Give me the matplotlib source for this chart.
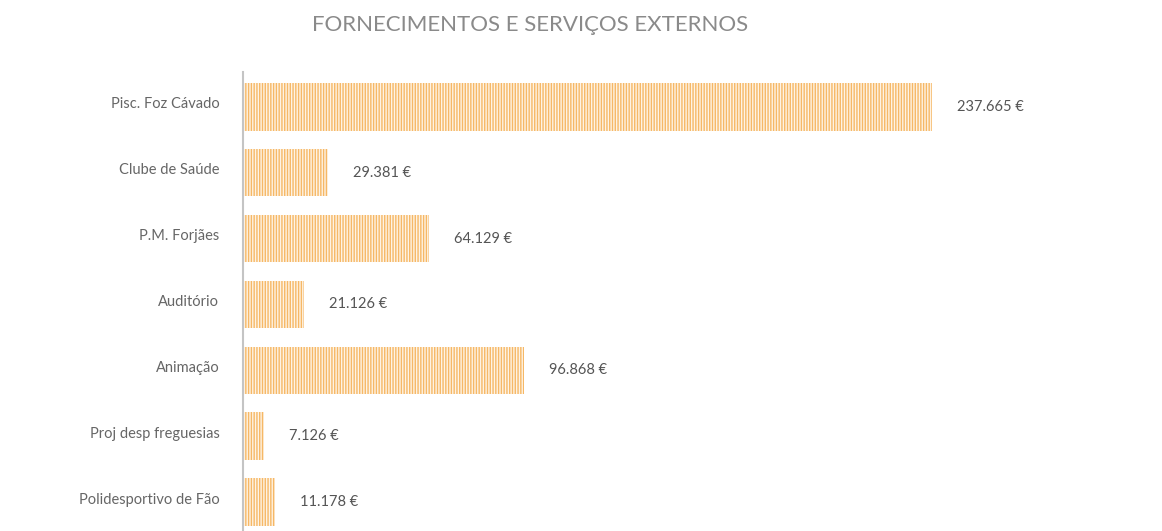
import matplotlib.pyplot as plt
import matplotlib.transforms as mtransforms
import numpy as np

plt.rcParams['font.family'] = ['Lato', 'DejaVu Sans']

categorias = ["Pisc. Foz Cávado", "Clube de Saúde", "P.M. Forjães", "Auditório",
              "Animação", "Proj desp freguesias", "Polidesportivo de Fão"]
valores = [237665, 29381, 64129, 21126, 96868, 7126, 11178]
rotulos = ["237.665 €", "29.381 €", "64.129 €", "21.126 €", "96.868 €", "7.126 €", "11.178 €"]

LARANJA = "#f6b866"
CINZA = "#666666"

fig = plt.figure(figsize=(11.62, 5.31), dpi=100)
ax = fig.add_axes([243 / 1162, 0, 870 / 1162, 459 / 531])

plt.rcParams['hatch.linewidth'] = 1.0
y = np.arange(len(categorias))
ax.barh(y, valores, height=0.72, color="#fef3e4", edgecolor=LARANJA,
        hatch="||||||", linewidth=0)

for yi, v, txt in zip(y, valores, rotulos):
    ax.annotate(txt, (v, yi), xytext=(18, 0), textcoords="offset points",
                va="center", ha="left", fontsize=10.5, color="#555555")

ax.set_xlim(0, 300000)
ax.set_ylim(6.44, -0.53)
ax.set_yticks(y)
ax.set_yticklabels(categorias, fontsize=10.5, color=CINZA)
ax.tick_params(axis="y", length=0, pad=17)
# labels sit a little above the bar centre in the original
shift = mtransforms.ScaledTranslation(0, 4 / 100, fig.dpi_scale_trans)
for t in ax.get_yticklabels():
    t.set_transform(t.get_transform() + shift)
ax.set_xticks([])
for s in ["top", "right", "bottom"]:
    ax.spines[s].set_visible(False)
ax.spines["left"].set_color("#c4c4c4")
ax.spines["left"].set_linewidth(1.5)

fig.text(530 / 1162, 1 - 25 / 531, "FORNECIMENTOS E SERVIÇOS EXTERNOS",
         ha="center", va="center", fontsize=16, color="#8a8a8a")

fig.savefig("out.png", dpi=100, facecolor="white")
